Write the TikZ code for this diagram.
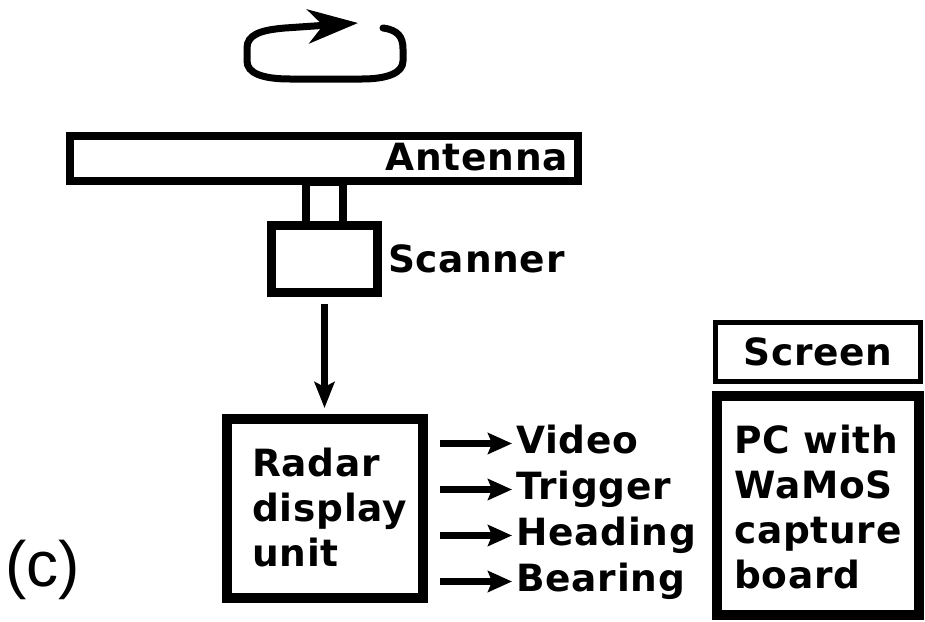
\documentclass[tikz,border=0pt]{standalone}
\usepackage{fontspec}
\setmainfont{DejaVu Sans}[LetterSpace=2]
\newfontfamily\cfont{Liberation Sans}
\usetikzlibrary{arrows.meta}
\tikzset{
  lbl/.style={font=\bfseries\fontsize{37.5}{45}\selectfont, inner sep=0pt},
  sig/.style={lbl, anchor=base west, text height=27pt, text depth=8pt},
  box/.style={draw, rectangle, inner sep=0pt},
  rarr/.style={line width=7.5pt, -{Stealth[length=24pt,width=21pt,inset=4pt]}, shorten <=12pt, shorten >=4pt},
  darr/.style={line width=7pt, -{Stealth[length=26pt,width=20pt,inset=5pt]}, shorten <=7.5pt, shorten >=6pt},
  rot/.style={line width=7pt, line cap=round, -{Stealth[length=50pt,width=34pt,inset=15pt]}}
}
\begin{document}
\begin{tikzpicture}[x=1pt,y=-1pt]
\useasboundingbox (0,0) rectangle (925,621);
% rotation symbol
\draw[rot] (383,28) .. controls (398,30) and (403,37) .. (403,49) -- (403,61)
  .. controls (403,73) and (387,79) .. (362,79) -- (290,79)
  .. controls (262,79) and (247,73) .. (247,61) -- (247,48)
  .. controls (247,35) and (260,30) .. (285,28) -- (358,23);
% antenna, neck, scanner
\node[box, line width=8pt, minimum width=508pt, minimum height=45pt] (antenna) at (324,158.5) {};
\node[lbl, anchor=base east] (antlbl) at (568,170) {Antenna};
\node[box, line width=8pt, minimum width=37pt, minimum height=44pt] (neck) at (324.5,203.5) {};
\node[box, line width=9pt, minimum width=106pt, minimum height=66.5pt] (scanner) at (324.5,258.75) {};
\node[lbl, anchor=base west] (scanlbl) at (388,272) {Scanner};
% radar display unit
\node[box, line width=10pt, minimum width=196pt, minimum height=179pt] (radar) at (325,508.5) {};
\node[lbl, anchor=north west, align=left] (radarlbl) at (252,448) {Radar\\display\\unit};
\draw[darr] (scanner.south) -- (scanner.south |- radar.north);
% signals
\node[sig] (video) at (516,453) {Video};
\node[sig] (trigger) at (516,499) {Trigger};
\node[sig] (heading) at (516,545) {Heading};
\node[sig] (bearing) at (516,591) {Bearing};
\foreach \s in {video,trigger,heading,bearing}
  \draw[rarr] (radar.east |- \s.west) -- (\s.west);
% screen and PC
\node[box, line width=5pt, minimum width=205pt, minimum height=58.5pt, lbl] (screen) at (818,351.75) {Screen};
\node[box, line width=10pt, minimum width=202pt, minimum height=219pt] (pc) at (818,505.5) {};
\node[lbl, anchor=north west, align=left] (pclbl) at (734,425) {PC with\\WaMoS\\capture\\board};
% panel label
\node[font=\cfont\fontsize{64}{64}\selectfont, inner sep=0pt, anchor=base west] (panel) at (5,586) {(c)};
\end{tikzpicture}
\end{document}
